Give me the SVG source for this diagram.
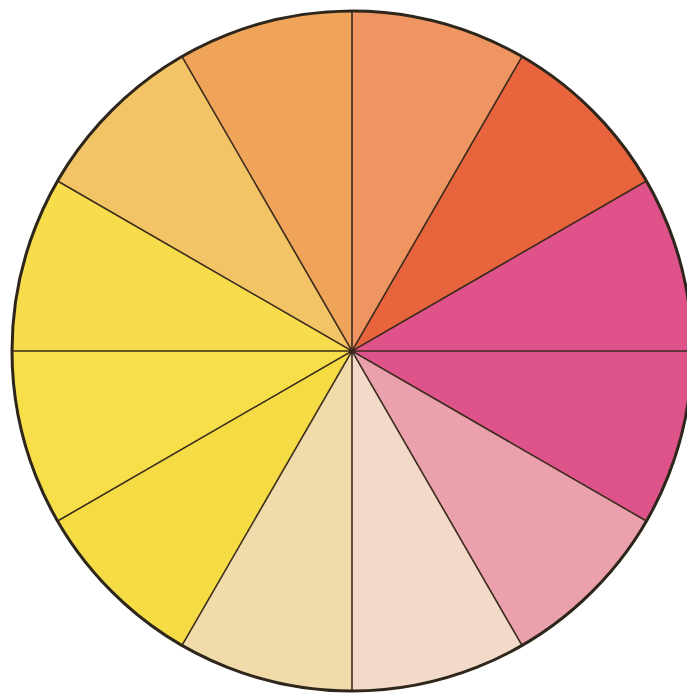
<svg xmlns="http://www.w3.org/2000/svg" width="687" height="700" viewBox="0 0 687 700">
<style>
.w{stroke:none}
.spoke{stroke:#3a2a1c;stroke-width:1.6;fill:none}
.rim{fill:none;stroke:#2e261a;stroke-width:3}
</style>
<rect width="687" height="700" fill="#ffffff"/>
<g id="wheel">
<path id="w60" class="w" fill="#EE9562" d="M352,351 L352,11 A340,340 0 0 1 522,56.6 Z"/>
<path id="w30" class="w" fill="#E8643C" d="M352,351 L522,56.6 A340,340 0 0 1 646.4,181 Z"/>
<path id="w0" class="w" fill="#E0528A" d="M352,351 L646.4,181 A340,340 0 0 1 692,351 Z"/>
<path id="w330" class="w" fill="#DE548A" d="M352,351 L692,351 A340,340 0 0 1 646.4,521 Z"/>
<path id="w300" class="w" fill="#EBA0AE" d="M352,351 L646.4,521 A340,340 0 0 1 522,645.4 Z"/>
<path id="w270" class="w" fill="#F2D9C8" d="M352,351 L522,645.4 A340,340 0 0 1 352,691 Z"/>
<path id="w240" class="w" fill="#F1DBAA" d="M352,351 L352,691 A340,340 0 0 1 182,645.4 Z"/>
<path id="w210" class="w" fill="#F5DC44" d="M352,351 L182,645.4 A340,340 0 0 1 57.6,521 Z"/>
<path id="w180" class="w" fill="#F7DF4A" d="M352,351 L57.6,521 A340,340 0 0 1 12,351 Z"/>
<path id="w150" class="w" fill="#F7DD4C" d="M352,351 L12,351 A340,340 0 0 1 57.6,181 Z"/>
<path id="w120" class="w" fill="#F3C466" d="M352,351 L57.6,181 A340,340 0 0 1 182,56.6 Z"/>
<path id="w90" class="w" fill="#F0A45A" d="M352,351 L182,56.6 A340,340 0 0 1 352,11 Z"/>
</g>
<g id="spokes">
<line class="spoke" x1="352" y1="11" x2="352" y2="691"/>
<line class="spoke" x1="12" y1="351" x2="692" y2="351"/>
<line class="spoke" x1="522" y1="56.6" x2="182" y2="645.4"/>
<line class="spoke" x1="646.4" y1="181" x2="57.6" y2="521"/>
<line class="spoke" x1="646.4" y1="521" x2="57.6" y2="181"/>
<line class="spoke" x1="522" y1="645.4" x2="182" y2="56.6"/>
<circle cx="352" cy="351" r="3" fill="#3a2a1c"/>
</g>
<circle class="rim" cx="352" cy="351" r="340"/>
</svg>
